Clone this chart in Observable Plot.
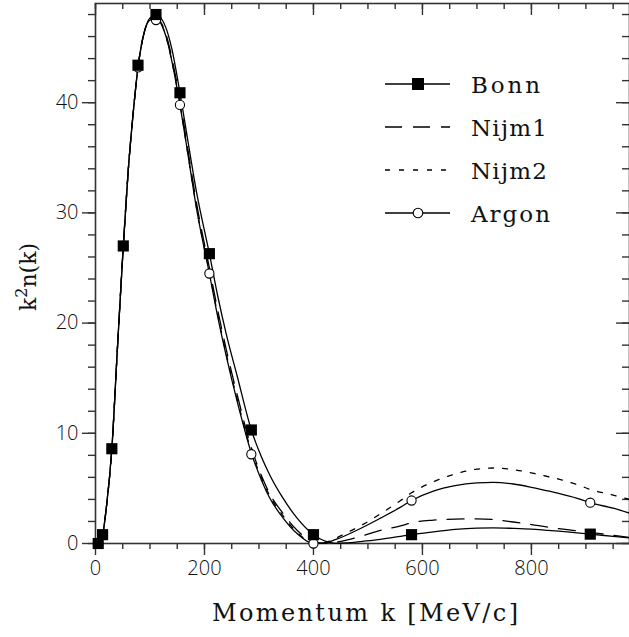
<!DOCTYPE html>
<html><head><meta charset="utf-8">
<script src="https://cdn.jsdelivr.net/npm/d3@7"></script>
<script src="https://cdn.jsdelivr.net/npm/@observablehq/plot@0.6"></script>
<style>body{margin:0;background:#fff;overflow:hidden}</style>
</head><body><div id="chart"></div>
<script>
// momentum grid (MeV/c)
const k =     [0, 5, 13, 20, 30, 40, 51, 60, 70, 78, 90, 100, 111, 120, 130, 140, 155, 170, 185, 209, 225, 240, 260, 286, 305, 320, 343, 370, 400, 420, 440, 460, 490, 523, 560, 580, 620, 660, 700, 730, 767, 800, 828, 850, 884, 908, 950, 980];
const bonn =  [0, 0.05, 0.8, 3.3, 8.6, 17.5, 27.0, 33.8, 39.5, 43.2, 46.5, 47.7, 48.0, 47.7, 46.7, 44.9, 40.9, 36.4, 32.0, 26.3, 22.3, 19.0, 15.2, 10.3, 7.8, 6.2, 4.2, 2.3, 0.8, 0.25, 0.02, 0.05, 0.2, 0.38, 0.65, 0.8, 1.05, 1.28, 1.4, 1.42, 1.37, 1.3, 1.2, 1.12, 0.97, 0.85, 0.65, 0.5];
const nijm1 = [0, 0.05, 0.8, 3.3, 8.6, 17.5, 27.0, 33.8, 39.5, 43.2, 46.5, 47.6, 47.7, 47.3, 46.1, 44.1, 40.2, 35.6, 31.0, 25.0, 21.0, 17.6, 13.5, 8.7, 6.1, 4.5, 2.8, 1.2, 0.15, 0.02, 0.1, 0.3, 0.7, 1.2, 1.6, 1.88, 2.12, 2.22, 2.24, 2.18, 1.95, 1.72, 1.5, 1.35, 1.15, 1.0, 0.75, 0.55];
const nijm2 = [0, 0.05, 0.8, 3.3, 8.6, 17.5, 27.0, 33.8, 39.5, 43.2, 46.5, 47.5, 47.6, 47.2, 45.9, 43.8, 39.9, 35.2, 30.6, 24.6, 20.6, 17.2, 13.1, 8.4, 5.9, 4.3, 2.6, 1.0, 0.12, 0.12, 0.45, 0.95, 1.7, 2.7, 3.9, 4.6, 5.6, 6.3, 6.75, 6.85, 6.7, 6.4, 6.1, 5.85, 5.35, 4.9, 4.4, 4.0];
const argon = [0, 0.05, 0.8, 3.3, 8.6, 17.5, 27.0, 33.8, 39.5, 43.2, 46.5, 47.5, 47.6, 47.2, 45.9, 43.8, 39.8, 35.2, 30.5, 24.5, 20.4, 17.0, 12.9, 8.2, 5.7, 4.1, 2.4, 0.9, 0.0, 0.05, 0.35, 0.75, 1.45, 2.3, 3.3, 3.9, 4.75, 5.25, 5.5, 5.55, 5.4, 5.1, 4.8, 4.55, 4.1, 3.7, 3.2, 2.75];

// marker points
const markerK =   [5, 13, 30, 51, 78, 111, 155, 209, 286, 400, 580, 908];
const bonnPts =   [0, 0.8, 8.6, 27.0, 43.4, 48.0, 40.9, 26.3, 10.3, 0.8, 0.8, 0.85];
const argonPts =  [0, 0.8, 8.6, 27.0, 43.2, 47.5, 39.8, 24.5, 8.1, 0.0, 3.9, 3.7];

// ticks
const xMajor = [0, 200, 400, 600, 800];
const xMinor = [0, 50, 100, 150, 200, 250, 300, 350, 400, 450, 500, 550, 600, 650, 700, 750, 800, 850, 900, 950];
const yMajor = [0, 10, 20, 30, 40];
const yMinor = [0, 2, 4, 6, 8, 10, 12, 14, 16, 18, 20, 22, 24, 26, 28, 30, 32, 34, 36, 38, 40, 42, 44, 46, 48];

const seriesNames = ["Bonn", "Nijm1", "Nijm2", "Argon"];
const seriesVals = [bonn, nijm1, nijm2, argon];
const rows = seriesNames.flatMap((s, i) => k.map((kk, j) => ({series: s, k: kk, v: seriesVals[i][j]})));
const bonnMarks = markerK.map((kk, j) => ({k: kk, v: bonnPts[j]}));
const argonMarks = markerK.map((kk, j) => ({k: kk, v: argonPts[j]}));

const W = 629, H = 637, mL = 95, mR = 0, mT = 3, mB = 94;
const innerW = W - mL - mR, innerH = H - mT - mB;
const dashes = {Bonn: null, Nijm1: "17,11", Nijm2: "5,9", Argon: null};
const axColor = "#333";

const chart = Plot.plot({
  width: W, height: H,
  marginLeft: mL, marginRight: mR, marginTop: mT, marginBottom: mB,
  x: {domain: [0, 980]},
  y: {domain: [0, 49]},
  style: {fontFamily: "'Open Sans', sans-serif", fontSize: "20px", color: "#111", background: "white"},
  marks: [
    Plot.axisX({ticks: xMajor, tickSize: 12, tickPadding: 5, label: null, stroke: axColor, strokeWidth: 1.4, fontWeight: 300}),
    Plot.axisX({ticks: xMinor, tickSize: 6, tickFormat: () => "", label: null, stroke: axColor, strokeWidth: 1.4}),
    Plot.axisY({ticks: yMajor, tickSize: 13, tickPadding: 4, label: null, stroke: axColor, strokeWidth: 1.4, fontWeight: 300}),
    Plot.axisY({ticks: yMinor, tickSize: 7, tickFormat: () => "", label: null, stroke: axColor, strokeWidth: 1.4}),
    Plot.tickX(xMinor, {x: d => d, insetBottom: innerH - 6, stroke: axColor, strokeWidth: 1.4}),
    Plot.tickX(xMajor, {x: d => d, insetBottom: innerH - 12, stroke: axColor, strokeWidth: 1.4}),
    Plot.tickY(yMinor, {y: d => d, insetLeft: innerW - 7, stroke: axColor, strokeWidth: 1.4}),
    Plot.tickY(yMajor, {y: d => d, insetLeft: innerW - 13, stroke: axColor, strokeWidth: 1.4}),
    Plot.frame({stroke: axColor, strokeWidth: 1.6}),
    ...seriesNames.map(s => Plot.line(rows.filter(r => r.series === s), {
      x: "k", y: "v", curve: "monotone-x", stroke: "black", strokeWidth: 1.3,
      strokeDasharray: dashes[s]
    })),
    Plot.dot(argonMarks, {x: "k", y: "v", r: 4.6, stroke: "black", fill: "white", strokeWidth: 1.1}),
    Plot.dot(bonnMarks, {x: "k", y: "v", symbol: "square", r: 6.3, fill: "black", stroke: "none"})
  ]
});
document.getElementById("chart").append(chart);

// axis titles and legend
const svg = d3.select(chart);
const serif = "'DejaVu Serif', 'Liberation Serif', serif";
svg.append("text")
  .attr("x", 365).attr("y", 621).attr("text-anchor", "middle")
  .attr("font-family", serif).attr("font-size", 24).attr("fill", "#111")
  .attr("textLength", 306).attr("lengthAdjust", "spacing")
  .text("Momentum k [MeV/c]");
const yl = svg.append("text")
  .attr("transform", "translate(36,277) rotate(-90)").attr("text-anchor", "middle")
  .attr("font-family", serif).attr("font-size", 22).attr("fill", "#111");
yl.append("tspan").text("k");
yl.append("tspan").attr("dy", -9).attr("font-size", 16).text("2");
yl.append("tspan").attr("dy", 9).text("n(k)");

const leg = svg.append("g").attr("text-anchor", "start");
seriesNames.forEach((s, i) => {
  const y = 84 + i * 43;
  leg.append("line").attr("x1", 385).attr("x2", 450).attr("y1", y).attr("y2", y)
    .attr("stroke", "black").attr("stroke-width", 1.3)
    .attr("stroke-dasharray", dashes[s]);
  if (s === "Bonn") leg.append("rect").attr("x", 418 - 6).attr("y", y - 6).attr("width", 12).attr("height", 12).attr("fill", "black");
  if (s === "Argon") leg.append("circle").attr("cx", 418).attr("cy", y).attr("r", 4.8).attr("fill", "white").attr("stroke", "black").attr("stroke-width", 1.1);
  leg.append("text").attr("x", 471).attr("y", y + 9).attr("text-anchor", "start")
    .attr("font-family", serif).attr("font-size", 23).attr("fill", "#111")
    .attr("textLength", [69, 76, 76, 79][i]).attr("lengthAdjust", "spacing")
    .text(s);
});
</script>
</body></html>
